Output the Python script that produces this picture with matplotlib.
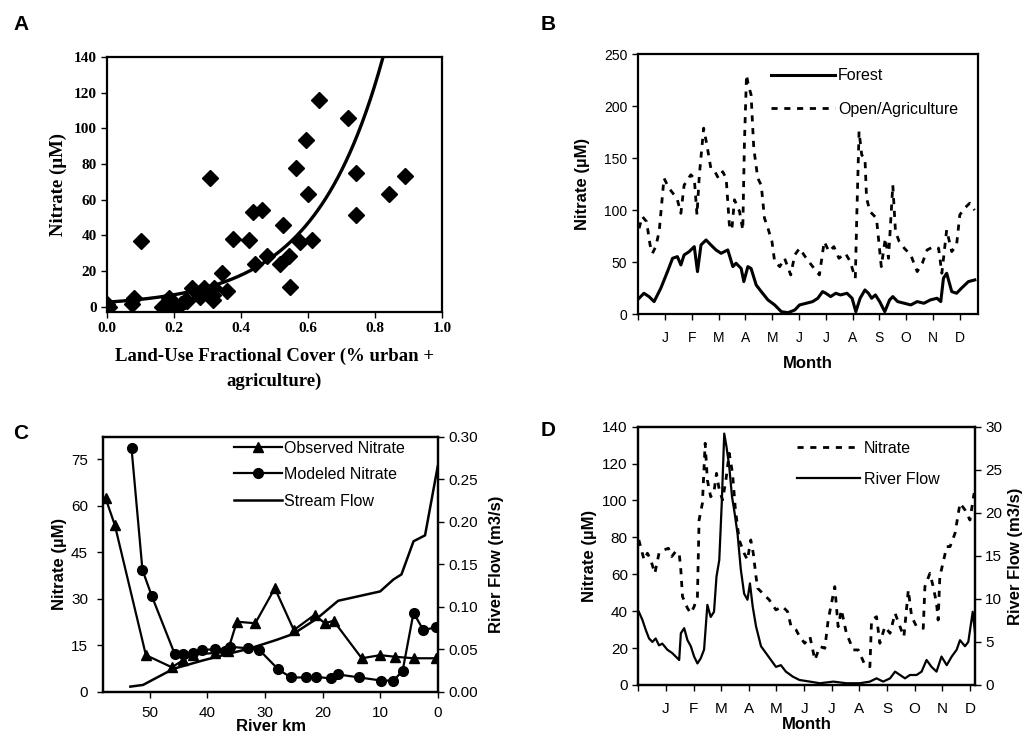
import numpy as np
import matplotlib
matplotlib.use('Agg')
import matplotlib.pyplot as plt
from matplotlib.ticker import FormatStrFormatter

plt.rcParams['font.family'] = ['Liberation Sans', 'DejaVu Sans']
plt.rcParams['axes.linewidth'] = 1.6

# ---- panel A: nitrate vs land use ----
landuse = [0.0, 0.005, 0.074, 0.08, 0.10, 0.165, 0.178, 0.185, 0.195, 0.20, 0.22, 0.233,
           0.24, 0.255, 0.278, 0.29, 0.306, 0.315, 0.317, 0.32, 0.343, 0.358, 0.375, 0.423,
           0.435, 0.443, 0.463, 0.478, 0.515, 0.525, 0.542, 0.547, 0.565, 0.577, 0.595,
           0.599, 0.612, 0.632, 0.72, 0.744, 0.744, 0.841, 0.889]
nitrate_a = [1.5, 0, 1.5, 5, 37, 0, 0.5, 5, 2.5, 0, 1.5, 3.4,
             3, 10.5, 5.2, 10.5, 72, 3.5, 6.6, 10.5, 19, 9, 38, 37.5,
             53, 24, 54, 28.6, 24, 45.5, 28.6, 11, 77.7, 36, 93.6,
             63, 37.5, 116, 105.7, 75, 51.5, 63, 73]
fit_a = 2.5
fit_b = 4.885

# ---- panel B: nitrate by land cover through the year ----
month_labels = ['', 'J', 'F', 'M', 'A', 'M', 'J', 'J', 'A', 'S', 'O', 'N', 'D']
open_month = [0.03, 0.15, 0.31, 0.44, 0.53, 0.65, 0.78, 0.96, 1.15, 1.34,
              1.46, 1.59, 1.71, 1.96, 2.09, 2.19, 2.28, 2.44, 2.56, 2.71,
              2.86, 2.99, 3.15, 3.28, 3.40, 3.49, 3.59, 3.78, 3.90, 3.96,
              4.04, 4.11, 4.21, 4.31, 4.46, 4.59, 4.71, 4.84, 4.99, 5.09,
              5.28, 5.46, 5.69, 5.84,
              6.02, 6.27, 6.51, 6.76, 6.94, 7.12, 7.30, 7.49, 7.73, 7.91,
              8.10, 8.16, 8.24, 8.34, 8.46, 8.52, 8.65, 8.89, 9.07, 9.22,
              9.34, 9.50, 9.60, 9.74, 9.93, 10.17, 10.41, 10.60, 10.78, 11.02,
              11.21, 11.33, 11.51, 11.70, 11.88, 12.00, 12.18, 12.37, 12.55]
open_no3 = [82.6, 93.9, 89, 66.6, 58.6, 65, 79.4, 130.7, 121, 114.7,
            110, 97, 124, 134, 130.7, 95.5, 134, 178.8, 162.8, 140,
            137, 130.7, 137, 130.7, 85.9, 81, 110, 98.7, 81, 162.8,
            230, 220, 211, 159.6, 130.7, 124, 92.3, 82.6, 69.8, 50.6,
            45.8, 53.8, 37.8, 57,
            63.4, 53.8, 45.8, 37.8, 69.8, 60.2, 65, 53.8, 58.6, 50.6,
            34.6, 98.7, 175.6, 153, 150, 111.5, 98.7, 92.3, 45.8, 73,
            53.8, 124, 79.4, 69.8, 63.4, 57, 41, 49, 61.8, 65,
            63.4, 39.4, 81, 60.2, 66.6, 95.5, 101.9, 106.7, 100]
forest_month = [0.03, 0.21, 0.40, 0.59, 0.84, 1.09, 1.28, 1.46, 1.59, 1.71,
                1.90, 2.09, 2.21, 2.34, 2.53, 2.71, 2.90, 3.09, 3.34, 3.53,
                3.65, 3.84, 3.94, 4.09, 4.21, 4.40, 4.59, 4.84, 5.09, 5.34,
                5.59, 5.84,
                6.02, 6.27, 6.51, 6.70, 6.88, 7.00, 7.18, 7.37, 7.55, 7.79,
                7.98, 8.12, 8.28, 8.46, 8.59, 8.71, 8.85, 9.01, 9.20, 9.38,
                9.50, 9.68, 9.93, 10.17, 10.41, 10.66, 10.90, 11.15, 11.29, 11.39,
                11.51, 11.70, 11.88, 12.06, 12.32, 12.56]
forest_no3 = [15.4, 20.2, 17, 12.2, 25, 41, 53.8, 55.4, 47.4, 57,
              60.2, 65, 41, 66.6, 71.4, 66.6, 61.8, 58.6, 61.8, 45.8,
              49, 44, 31.4, 45.8, 44, 28.2, 21.8, 13.8, 9, 2.5,
              1.6, 4.1,
              9, 10.6, 12.2, 15.4, 21.8, 20.2, 17, 20.2, 18.6, 20.2,
              15.4, 2.5, 15.4, 23.4, 20.2, 15.4, 18.6, 12.2, 2.5, 13.8,
              17, 12.2, 10.6, 9, 12.2, 10.6, 13.8, 15.4, 12.2, 34.6,
              39.4, 21.8, 20.2, 25, 31.4, 33]

# ---- panel C: along the river ----
obs_km = [57.7, 56.1, 50.7, 46.2, 44.2, 42.5, 38.7, 36.5, 34.9, 31.7,
          28.3, 25.0, 21.4, 19.6, 18.1, 13.2, 10.0, 7.5, 4.2, 0.3]
obs_no3 = [62.4, 53.8, 11.8, 7.9, 10.2, 12.0, 12.5, 13.0, 22.6, 22.1,
           33.4, 19.9, 24.8, 22.1, 22.9, 10.8, 11.8, 11.3, 10.8, 10.8]
mod_km = [53.2, 51.3, 49.7, 45.7, 44.2, 42.5, 41.0, 38.7, 37.0, 36.1,
          32.9, 31.0, 27.7, 25.5, 22.9, 21.1, 18.6, 17.4, 13.6, 9.8,
          7.7, 6.1, 4.2, 2.5, 0.3]
mod_no3 = [78.6, 39.3, 31.0, 12.2, 12.2, 12.6, 13.5, 13.7, 13.2, 14.5,
           14.0, 13.5, 7.2, 4.6, 4.6, 4.8, 4.3, 5.6, 4.6, 3.6,
           3.6, 6.7, 25.5, 19.9, 20.8]
flow_km = [53.4, 51.2, 45.9, 40.7, 36.7, 32.6, 28.0, 25.1, 21.0, 17.3,
           10.0, 7.7, 6.3, 4.2, 2.2, 0.0]
flow_c = [0.006, 0.008, 0.027, 0.037, 0.044, 0.051, 0.061, 0.068, 0.086, 0.107,
          0.118, 0.132, 0.138, 0.177, 0.184, 0.265]

# ---- panel D: river nitrate and flow through the year ----
d_no3_month = [0.02, 0.21, 0.33, 0.45, 0.60, 0.75, 0.93, 1.09, 1.21, 1.35,
               1.48, 1.54, 1.60, 1.78, 1.90, 2.02, 2.14, 2.20, 2.32, 2.42,
               2.50, 2.62, 2.74, 2.83, 2.93, 3.05, 3.17, 3.29, 3.41, 3.51,
               3.65, 3.83, 3.95, 4.07, 4.16, 4.26, 4.32, 4.50, 4.74, 4.98,
               5.22, 5.40, 5.53, 5.71,
               5.84, 6.02, 6.21, 6.39, 6.57, 6.75, 6.87, 6.99, 7.11, 7.23,
               7.35, 7.53, 7.78, 7.96, 8.20, 8.38, 8.44, 8.62, 8.74, 8.92,
               9.11, 9.29, 9.47, 9.61, 9.77, 9.89, 10.07, 10.31, 10.37, 10.55,
               10.67, 10.79, 10.85, 10.91, 11.16, 11.28, 11.46, 11.64, 11.82, 12.00,
               12.15]
d_no3 = [78.6, 67.8, 71.4, 67.8, 60.5, 71.4, 73.2, 74.1, 69.6, 72.3,
         71.4, 62.3, 47.9, 41.6, 38.9, 42.5, 47.9, 89.4, 98.5, 131,
         111, 102, 104.8, 114.7, 105.7, 100.3, 111, 125.6, 114.7, 95.8,
         78.6, 71.4, 67.8, 78.6, 71.4, 58.7, 52.4, 49.7, 46.1, 40.7,
         42.5, 39.8, 31.6, 29.8,
         26.2, 22.6, 26.2, 13.6, 20.8, 19.9, 35.2, 44.3, 53.3, 31.6,
         40.7, 28, 19, 19, 10.8, 9.9, 35.2, 37, 22.6, 31.6,
         28, 38.9, 31.6, 26.2, 51.5, 37, 31.6, 30.7, 53.3, 60.5,
         53.3, 44.3, 35.2, 58.7, 75, 75, 82.2, 98.5, 94.9, 89.4,
         104]
d_flow_month = [0.02, 0.15, 0.27, 0.39, 0.51, 0.63, 0.75, 0.87, 1.05, 1.23,
                1.48, 1.54, 1.66, 1.78, 1.90, 2.02, 2.14, 2.26, 2.38, 2.50,
                2.62, 2.74, 2.83, 2.93, 3.02, 3.11, 3.19, 3.29, 3.39, 3.47,
                3.59, 3.71, 3.83, 3.95, 4.04, 4.14, 4.26, 4.44, 4.62, 4.80,
                4.98, 5.16, 5.34, 5.59, 5.83,
                6.21, 6.57, 7.06, 7.53, 8.01, 8.38, 8.62, 8.86, 9.11, 9.29,
                9.47, 9.65, 9.83, 10.07, 10.25, 10.43, 10.61, 10.79, 10.97, 11.16,
                11.34, 11.52, 11.64, 11.82, 11.94, 12.10, 12.20]
d_flow = [8.5, 7.55, 6.4, 5.4, 5.0, 5.4, 4.6, 4.8, 4.1, 3.7,
          2.9, 6.0, 6.6, 5.2, 4.5, 3.3, 2.5, 3.1, 4.1, 9.3,
          7.9, 8.5, 12.6, 14.5, 21.1, 29.2, 27.7, 25.4, 21.9, 20.3,
          17.6, 13.4, 10.6, 9.9, 11.8, 9.1, 6.8, 4.5, 3.7, 2.9,
          2.1, 2.3, 1.55, 0.97, 0.58,
          0.39, 0.2, 0.39, 0.2, 0.2, 0.39, 0.77, 0.39, 0.77, 1.55,
          1.16, 0.77, 1.16, 1.16, 1.55, 2.9, 2.1, 1.55, 3.3, 2.3,
          3.3, 4.1, 5.2, 4.5, 5.0, 8.5, 5.6]

fig = plt.figure(figsize=(10.27, 7.34), dpi=100)

serif = 'Liberation Serif'

# ---------- A ----------
ax_a = fig.add_axes([0.1042, 0.575, 0.3262, 0.3474])
ax_a.plot(landuse, nitrate_a, 'D', color='black', ms=8.5, zorder=3)
xs = np.linspace(0, 0.9, 300)
ax_a.plot(xs, fit_a * np.exp(fit_b * xs), color='black', lw=2.4)
ax_a.set_xlim(0, 1.0)
ax_a.set_ylim(-3, 140)
ax_a.set_xticks(np.arange(0, 1.01, 0.2))
ax_a.set_yticks(np.arange(0, 141, 20))
ax_a.xaxis.set_major_formatter(FormatStrFormatter('%.1f'))
ax_a.tick_params(direction='out', length=4, width=1, labelsize=11)
for lab in ax_a.get_xticklabels() + ax_a.get_yticklabels():
    lab.set_fontfamily(serif)
    lab.set_fontweight('bold')
ax_a.set_xlabel('Land-Use Fractional Cover (% urban +\nagriculture)', family=serif,
                fontweight='bold', fontsize=13.5, labelpad=9, linespacing=1.6)
ax_a.set_ylabel('Nitrate (\u00b5M)', family=serif, fontweight='bold', fontsize=13.5, labelpad=5)

# ---------- B ----------
ax_b = fig.add_axes([0.6215, 0.5718, 0.3308, 0.3546])
ax_b.plot(forest_month, forest_no3, color='black', lw=2.2, label='Forest')
ax_b.plot(open_month, open_no3, color='black', lw=2.0, linestyle=(0, (2.2, 2.4)),
          label='Open/Agriculture')
ax_b.set_xlim(0, 12.68)
ax_b.set_ylim(0, 250)
ax_b.set_xticks(range(13))
ax_b.set_xticklabels(month_labels)
ax_b.set_yticks(range(0, 251, 50))
ax_b.tick_params(direction='out', length=4, width=1, labelsize=10, pad=8)
ax_b.tick_params(axis='y', pad=4)
ax_b.set_xlabel('Month', fontweight='bold', fontsize=12, labelpad=8)
ax_b.set_ylabel('Nitrate (\u00b5M)', fontweight='bold', fontsize=12, labelpad=10)
ax_b.legend(loc='upper left', bbox_to_anchor=(0.39, 0.945), frameon=False, fontsize=11.5,
            handlelength=4.0, handletextpad=0.2, labelspacing=1.15, borderpad=0,
            borderaxespad=0)

# ---------- C ----------
ax_c = fig.add_axes([0.1006, 0.0576, 0.3256, 0.3474])
l1, = ax_c.plot(obs_km, obs_no3, '-^', color='black', lw=1.6, ms=7.5, label='Observed Nitrate')
l2, = ax_c.plot(mod_km, mod_no3, '-o', color='black', lw=1.6, ms=7, label='Modeled Nitrate')
ax_c.set_xlim(58.1, 0)
ax_c.set_ylim(0, 82.3)
ax_c.set_xticks(range(50, -1, -10))
ax_c.set_yticks(range(0, 76, 15))
ax_c.tick_params(direction='out', length=4, width=1, labelsize=11)
ax_c.tick_params(axis='x', pad=6)
ax_c.tick_params(axis='y', pad=7)
ax_c.set_xlabel('River km', fontweight='bold', fontsize=12, labelpad=-0.5)
ax_c.set_ylabel('Nitrate (\u00b5M)', fontweight='bold', fontsize=12, labelpad=3)
ax_c2 = ax_c.twinx()
l3, = ax_c2.plot(flow_km, flow_c, color='black', lw=1.8, label='Stream Flow')
ax_c2.set_ylim(0, 0.30)
ax_c2.set_yticks(np.arange(0, 0.31, 0.05))
ax_c2.yaxis.set_major_formatter(FormatStrFormatter('%.2f'))
ax_c2.tick_params(direction='out', length=4, width=1, labelsize=11)
ax_c2.set_ylabel('River Flow (m3/s)', fontweight='bold', fontsize=12, labelpad=8)
ax_c2.legend(handles=[l1, l2, l3], loc='upper left', bbox_to_anchor=(0.39, 0.985),
             frameon=False, fontsize=11.5, handlelength=3.0, handletextpad=0.15,
             labelspacing=0.72, borderpad=0, borderaxespad=0)

# ---------- D ----------
ax_d = fig.add_axes([0.6215, 0.0668, 0.3278, 0.3519])
m1, = ax_d.plot(d_no3_month, d_no3, color='black', lw=2.0, linestyle=(0, (2.2, 2.4)),
                label='Nitrate')
ax_d.set_xlim(0, 12.18)
ax_d.set_ylim(0, 140)
ax_d.set_xticks(range(13))
ax_d.set_xticklabels(month_labels)
ax_d.set_yticks(range(0, 141, 20))
ax_d.tick_params(direction='out', length=4, width=1, labelsize=11)
ax_d.tick_params(axis='x', pad=8)
ax_d.set_xlabel('Month', fontweight='bold', fontsize=12, labelpad=1)
ax_d.set_ylabel('Nitrate (\u00b5M)', fontweight='bold', fontsize=12, labelpad=4)
ax_d2 = ax_d.twinx()
m2, = ax_d2.plot(d_flow_month, d_flow, color='black', lw=1.6, label='River Flow')
ax_d2.set_ylim(0, 30)
ax_d2.set_yticks(range(0, 31, 5))
ax_d2.tick_params(direction='out', length=4, width=1, labelsize=11)
ax_d2.set_ylabel('River Flow (m3/s)', fontweight='bold', fontsize=12, labelpad=4)
ax_d2.legend(handles=[m1, m2], loc='upper left', bbox_to_anchor=(0.47, 0.945),
             frameon=False, fontsize=11.5, handlelength=4.0, handletextpad=0.2,
             labelspacing=1.0, borderpad=0, borderaxespad=0)

for label, x, y in [('A', 0.013, 0.966), ('B', 0.526, 0.966),
                    ('C', 0.013, 0.409), ('D', 0.526, 0.414)]:
    fig.text(x, y, label, fontsize=15, fontweight='bold', va='center')

fig.savefig('out.png', dpi=100)
